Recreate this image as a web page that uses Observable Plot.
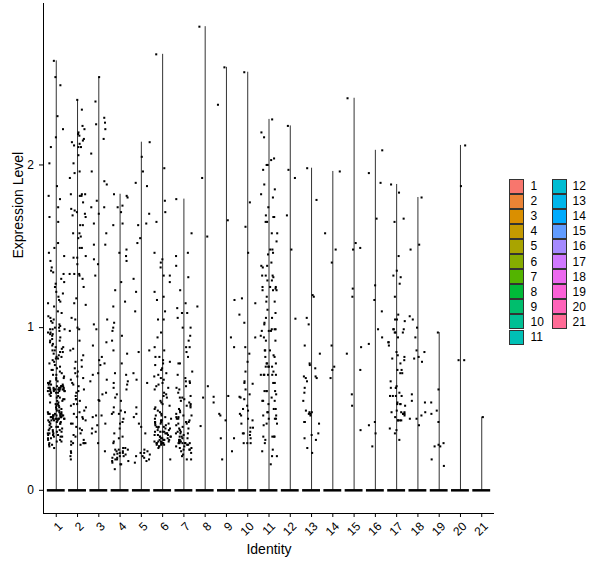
<!DOCTYPE html>
<html><head><meta charset="utf-8">
<script src="https://cdn.jsdelivr.net/npm/d3@7"></script>
<script src="https://cdn.jsdelivr.net/npm/@observablehq/plot@0.6"></script>
<style>
body{margin:0;background:#fff;font-family:"Liberation Sans",Arial,sans-serif}
#wrap{position:relative;width:600px;height:568px}
.key{position:absolute;width:13px;height:13px;border:1px solid #333;box-sizing:content-box}
.lab{position:absolute;font-size:12px;color:#000;line-height:14px}
</style></head><body><div id="wrap"></div>
<script>
const identities = ["1","2","3","4","5","6","7","8","9","10","11","12","13","14","15","16","17","18","19","20","21"];
const yTicks = [0, 1, 2];

const c1 = [2.64,2.54,2.49,2.30,2.22,2.17,2.11,2.01,1.87,1.81,1.79,1.74,1.68,1.65,1.52,1.49,1.46,1.44,1.41,
1.37,1.34,1.33,1.27,1.28,1.25,1.22,1.16,1.17,1.15,1.13,1.09,1.07,1.05,1.04,1.02,1.01,0.99,1.00,1.00,1.03,1.06,1.10,1.19,1.21,1.30,1.35,
0.98,0.97,0.99,0.96,0.94,0.95,0.92,0.91,0.89,0.90,0.88,0.86,0.87,0.85,0.83,0.84,0.82,0.80,0.81,0.79,0.97,0.93,0.88,0.85,0.82,0.99,0.96,0.92,0.86,0.81,
0.78,0.77,0.75,0.74,0.73,0.71,0.72,0.70,0.69,0.68,0.67,0.66,0.65,0.64,0.63,0.62,0.61,0.60,0.66,0.64,0.63,0.62,0.61,0.62,0.63,0.65,0.64,0.61,0.60,0.62,0.63,0.61,0.64,0.66,0.62,0.60,0.61,0.63,0.65,0.67,0.69,0.71,0.74,0.76,0.63,0.62,0.61,0.64,0.62,0.60,0.62,0.63,
0.59,0.58,0.57,0.55,0.56,0.54,0.53,0.52,0.51,0.50,0.49,0.48,0.47,0.46,0.45,0.44,0.43,0.42,0.41,0.40,0.47,0.46,0.45,0.44,0.46,0.47,0.45,0.44,0.43,0.46,0.48,0.45,0.44,0.47,0.43,0.42,0.45,0.46,0.44,0.41,0.49,0.51,0.53,0.55,0.57,0.58,0.56,0.54,0.52,0.50,0.48,0.46,0.44,0.45,0.43,0.47,0.46,0.44,0.42,0.41,
0.39,0.38,0.37,0.36,0.35,0.34,0.33,0.32,0.31,0.30,0.39,0.37,0.36,0.34,0.33,0.31,0.38,0.36,0.35,0.33,0.32,0.30,0.39,0.37,0.35,0.34,
0.29,0.28,0.28,0.27,0.26];
const c2 = [2.40,2.34,2.22,2.19,2.20,2.18,2.16,2.12,2.11,2.11,2.13,2.06,2.14,2.24,2.15,2.01,1.96,1.95,1.92,1.82,1.82,1.82,1.81,1.81,1.77,1.72,1.73,1.71,1.70,1.69,1.68,1.63,1.63,1.58,1.58,1.56,1.55,1.49,1.49,
1.44,1.43,1.43,1.39,1.33,1.33,1.33,1.32,1.30,1.25,1.18,1.15,1.14,1.06,1.05,1.00,0.99,0.98,0.92,0.87,0.86,0.80,0.79,0.76,0.73,0.72,0.70,0.69,0.68,0.65,0.64,0.62,0.61,0.60,0.56,0.56,0.55,0.53,0.53,0.51,0.49,0.48,0.45,0.45,0.43,0.41,0.41,0.39,0.37,0.35,0.33,0.29,0.29,0.28,0.29,0.28,0.29,0.30,0.21,0.19,0.23,0.24,
0.47,0.44,0.38,0.34,0.31,0.52,0.58,0.66,0.75,0.83];
const c3 = [2.54,2.39,2.29,2.26,2.22,2.25,2.16,2.07,1.96,1.90,1.88,1.78,1.74,1.74,1.70,1.64,1.58,1.51,1.51,1.42,1.39,1.32,1.05,1.02,0.99,0.91,0.89,0.80,0.82,0.78,0.77,0.72,0.71,0.67,0.68,0.59,0.60,0.555,0.55,0.46,0.45,0.46,0.41,0.40,0.38,0.35,0.36,0.29,0.24];
const c4 = [1.82,1.80,1.81,1.63,1.64,1.75,1.71,1.74,1.48,1.44,1.46,1.41,1.28,1.16,1.23,1.13,1.00,1.03,0.98,0.92,0.86,0.84,0.72,0.71,0.67,0.65,0.66,0.63,0.62,0.57,0.51,0.48,0.47,0.47,0.48,0.49,0.44,0.41,0.42,0.35,0.33,0.32,0.30,0.26,0.25,0.24,0.23,0.21,0.22,0.19,0.19,0.20,0.16,0.13,0.20,0.225,0.25,0.24,0.18,0.16,0.22,0.25,0.18,0.21,0.17,0.23,0.26,0.29,0.38,0.55,0.59,0.78,0.95];
const c5 = [2.14,2.05,1.87,1.96,1.89,1.70,1.63,1.64,1.55,1.52,1.30,1.10,1.22,0.86,0.85,0.68,0.72,0.66,0.51,0.47,0.45,0.41,0.35,0.39,0.24,0.23,0.22,0.19,0.20,0.21,0.17,0.23,0.25,0.21,0.18];
const c6 = [2.68,1.98,1.78,1.65,1.71,1.46,1.42,1.37,1.32,1.32,1.10,1.05,1.05,0.97,1.19,1.17,0.94,0.88,0.86,0.82,0.82,0.78,0.79,0.75,0.70,0.69,0.68,0.64,0.65,0.57,0.58,0.52,0.53,0.49,0.48,0.46,0.46,0.47,0.45,0.41,0.42,0.385,0.39,0.38,0.40,0.35,0.36,0.35,0.34,0.32,0.33,0.32,0.31,0.29,0.30,0.29,0.28,0.29,0.26,0.27,0.19,
0.44,0.43,0.42,0.41,0.40,0.39,0.37,0.36,0.34,0.33,0.31,0.30,0.28,0.27,0.29,0.30,0.31,0.33,0.35,0.37,0.38,0.41,0.43,0.44,0.36,0.34,0.32,0.30,0.28,0.29,0.31,0.33,0.36,0.39,0.42,
0.51,0.55,0.60,0.62,0.66,0.72,0.74,0.77,0.80,0.59,0.54,0.50,0.71,0.63,1.22,1.28,1.40];
const c7 = [1.79,1.58,1.44,1.46,1.15,1.09,1.09,1.06,1.00,1.00,0.88,0.88,0.82,0.78,0.78,0.69,0.67,0.67,0.66,0.63,0.57,0.57,0.52,0.52,0.51,0.46,0.46,0.45,0.45,0.41,0.41,0.40,0.35,0.35,0.35,0.36,0.29,0.29,0.29,0.30,0.29,0.29,0.29,0.25,0.25,0.24,0.25,0.22,0.19,0.19,
0.58,0.55,0.53,0.50,0.48,0.47,0.44,0.43,0.42,0.39,0.38,0.37,0.34,0.33,0.32,0.31,0.30,0.28,0.27,0.26,0.31,0.33,0.36,0.38,0.42,0.44,0.49,0.54,0.56,0.60,0.62,0.64,0.27,0.28,0.30,0.32,0.23,0.21,0.26,
1.23,1.31,1.38,1.12,0.95,0.92,0.85,0.73,0.71];
const c8 = [2.85,1.92,1.56,1.13,0.64,0.575,0.57,0.54,0.395];
const c9 = [2.60,2.37,1.66,1.17,0.94,0.88,0.58,0.47,0.46,0.32,0.32,0.24,0.19,0.43];
const c10 = [2.57,1.77,1.46,1.18,1.15,1.03,0.94,0.79,0.73,0.66,0.67,0.655,0.59,0.575,0.57,0.56,0.52,0.50,0.49,0.46,0.43,0.41,0.385,0.385,0.36,0.35,0.35,0.34,0.32,0.29,0.29,0.29,1.62,1.08,0.88,0.84,0.62,0.44,0.47];
const c11 = [2.28,2.20,2.17,2.03,2.00,2.00,2.04,1.97,1.88,1.85,1.82,1.80,1.74,1.69,1.68,1.68,1.65,1.65,1.58,1.58,1.53,1.48,1.48,1.46,1.45,1.40,1.38,1.37,1.38,1.32,1.32,1.31,1.32,1.29,1.29,1.25,1.25,1.25,1.23,1.24,1.23,1.23,1.19,1.16,1.16,1.11,1.09,1.06,1.06,1.03,1.02,0.99,0.99,0.99,0.95,0.98,0.98,0.98,0.94,0.92,0.92,0.86,0.86,0.86,0.83,0.82,0.82,0.78,0.78,0.78,0.76,0.76,0.76,0.76,0.73,0.71,0.71,0.71,0.71,0.71,0.71,0.66,0.66,0.61,0.61,0.61,0.61,0.59,0.57,0.55,0.55,0.55,0.53,0.50,0.50,0.48,0.48,0.46,0.46,0.44,0.44,0.44,0.40,0.41,0.41,0.33,0.33,0.33,0.33,0.31,0.29,0.25,0.24,0.21,0.21,0.16];
const c12 = [2.24,1.97,1.92,1.69,1.48,1.055];
const c13 = [1.98,1.785,1.19,1.20,1.02,0.89,0.84,0.78,0.77,0.75,0.69,0.70,0.69,0.70,0.67,0.63,0.60,0.55,0.49,0.47,0.47,0.46,0.48,0.48,0.42,0.42,0.41,0.34,0.35,0.32,0.31,0.26,0.23,1.06];
const c14 = [1.96,1.58,1.48,1.40,0.89,0.76,0.74,0.69];
const c15 = [2.41,1.52,1.49,1.48,1.24,1.19,0.88,0.84,0.74,0.59,0.52,0.37];
const c16 = [2.09,1.95,1.89,1.67,1.26,1.17,1.10,0.99,0.94,0.90,0.42,0.40,0.35,0.27];
const c17 = [1.88,1.83,1.67,1.65,1.44,1.35,1.31,1.27,1.32,1.19,1.08,1.05,1.05,1.04,0.99,0.99,0.99,0.97,0.97,0.97,0.94,0.91,0.91,0.89,0.83,0.85,0.82,0.81,0.80,0.78,0.74,0.74,0.72,0.72,0.67,0.64,0.63,0.63,0.63,0.60,0.58,0.58,0.58,0.58,0.54,0.53,0.53,0.53,0.52,0.49,0.48,0.48,0.48,0.47,0.47,0.46,0.47,0.45,0.43,0.43,0.43,0.43,0.38,0.37,0.35,0.31];
const c18 = [1.80,1.51,1.48,1.07,1.05,1.00,0.94,0.86,0.85,0.81,0.79,0.82,0.59,0.55,0.54,0.48,0.46,0.44,0.44,0.40];
const c19 = [0.97,0.62,0.49,0.47,0.54,0.42,0.29,0.28,0.27,0.27,0.19,0.15];
const c20 = [2.12,1.87,0.80,0.80];
const c21 = [0.45];
const zeroLevel = 0;

const series = [c1,c2,c3,c4,c5,c6,c7,c8,c9,c10,c11,c12,c13,c14,c15,c16,c17,c18,c19,c20,c21];

// deterministic jitter (horizontal position only, like geom_jitter width 0.4)
function jitter(k, i) {
  let a = Math.imul(k * 1000 + i + 1, 0x9E3779B9) >>> 0;
  a = (a + 0x6D2B79F5) | 0;
  let t = Math.imul(a ^ (a >>> 15), 1 | a);
  t = (t + Math.imul(t ^ (t >>> 7), 61 | t)) ^ t;
  const u = ((t ^ (t >>> 14)) >>> 0) / 4294967296;
  return (u - 0.5) * 0.8;
}
const points = series.flatMap((vals, k) => vals.map((v, i) => ({x: k + 1 + jitter(k, i), v})));
const tops = series.map((vals, k) => ({c: k + 1, max: d3.max(vals)}));
const pos = identities.map((_, k) => k + 1);

// ggplot2 default hue palette (polar LUV)
function hclLuv(h, c, l) {
  const hr = h * Math.PI / 180, U = c * Math.cos(hr), V = c * Math.sin(hr);
  const Xn = 95.047, Yn = 100, Zn = 108.883;
  const den = Xn + 15 * Yn + 3 * Zn, un = 4 * Xn / den, vn = 9 * Yn / den;
  const Y = l > 8 ? Yn * Math.pow((l + 16) / 116, 3) : Yn * l / 903.3;
  const u = U / (13 * l) + un, v = V / (13 * l) + vn;
  const X = 9 * Y * u / (4 * v), Z = (9 * Y / v - X - 15 * Y) / 3;
  const x = X / 100, y = Y / 100, z = Z / 100;
  const lin = [3.240479*x - 1.537150*y - 0.498535*z, -0.969256*x + 1.875992*y + 0.041556*z, 0.055648*x - 0.204043*y + 1.057311*z];
  const g = lin.map(t => { t = t <= 0.0031308 ? 12.92 * t : 1.055 * Math.pow(t, 1/2.4) - 0.055; return Math.round(Math.max(0, Math.min(1, t)) * 255); });
  return `rgb(${g[0]},${g[1]},${g[2]})`;
}
const colors = identities.map((_, i) => hclLuv(15 + i * 360 / identities.length, 100, 65));

const xDom = [0.4, 21.6], yDom = [-0.1425, 2.9925];
const font = '"Liberation Sans", Arial, sans-serif';

const chart = Plot.plot({
  width: 600, height: 568,
  marginLeft: 43, marginRight: 106, marginTop: 3, marginBottom: 55,
  style: {fontFamily: font, fontSize: "12px", color: "#000", background: "#fff"},
  x: {domain: xDom},
  y: {domain: yDom},
  marks: [
    Plot.axisY({ticks: yTicks, tickFormat: d => String(d), tickSize: 4, tickPadding: 5.5, label: null, fontSize: 12}),
    Plot.axisX({ticks: pos, tickFormat: null, text: null, tickSize: 4, label: null}),
    Plot.text(pos, {x: d => d, y: yDom[0], text: d => identities[d - 1], rotate: -45, textAnchor: "end", lineAnchor: "top", dx: 1, dy: 7.5, fontSize: 12, fill: "#000"}),
    Plot.ruleX([xDom[0]], {stroke: "#000", strokeWidth: 1}),
    Plot.ruleY([yDom[0]], {stroke: "#000", strokeWidth: 1}),
    Plot.ruleX(tops, {x: "c", y1: zeroLevel, y2: "max", stroke: "#333", strokeWidth: 1}),
    Plot.ruleY(pos, {x1: d => d - 0.42, x2: d => d + 0.42, y: zeroLevel, stroke: "#000", strokeWidth: 2.5}),
    Plot.dot(points, {x: "x", y: "v", r: 1.15, symbol: "square", fill: "#000", stroke: null}),
    Plot.text(["Identity"], {frameAnchor: "bottom", dy: 31, fontSize: 14, lineAnchor: "top"}),
    Plot.text(["Expression Level"], {frameAnchor: "left", dx: -25, rotate: -90, fontSize: 14})
  ]
});
const wrap = document.getElementById("wrap");
wrap.appendChild(chart);

// legend
const rowH = 15.1, top0 = 178.5;
identities.forEach((name, i) => {
  const col = i < 11 ? 0 : 1, row = i < 11 ? i : i - 11;
  const kx = col ? 551.5 : 508.5, lx = col ? 572.5 : 530.5;
  const y = top0 + row * rowH;
  const k = document.createElement("div");
  k.className = "key"; k.style.left = kx + "px"; k.style.top = y + "px"; k.style.background = colors[i];
  wrap.appendChild(k);
  const t = document.createElement("div");
  t.className = "lab"; t.textContent = name; t.style.left = lx + "px"; t.style.top = (y + 0.5) + "px";
  wrap.appendChild(t);
});
</script></body></html>
